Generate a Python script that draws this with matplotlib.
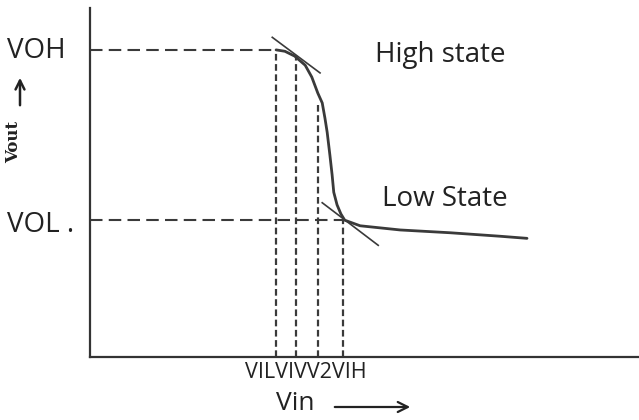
import matplotlib
matplotlib.use("Agg")
import matplotlib.pyplot as plt

# ---- data (voltage units) ----
vin_curve = [3.39, 3.55, 3.73, 3.92, 4.04, 4.15, 4.23, 4.28, 4.32, 4.37, 4.41,
             4.44, 4.50, 4.57, 4.64, 4.92, 5.65, 6.56, 7.47, 7.96]
vout_curve = [4.40, 4.38, 4.31, 4.18, 4.01, 3.78, 3.64, 3.42, 3.22, 2.89, 2.61,
              2.36, 2.18, 2.05, 1.96, 1.88, 1.82, 1.78, 1.73, 1.70]
tangent_hi_x = [3.32, 4.19]
tangent_hi_y = [4.58, 4.07]
tangent_lo_x = [4.23, 5.25]
tangent_lo_y = [2.21, 1.60]
VOH = 4.40
VOL = 1.96
tick_labels = ["VIL", "VIV", "V2", "VIH"]
tick_x = [3.39, 3.75, 4.15, 4.61]
tick_top = [4.40, 4.30, 3.65, 1.96]

W, H = 639, 420
fig = plt.figure(figsize=(W / 100, H / 100), dpi=100)
ax = fig.add_axes([90 / W, 63 / H, 549 / W, 349 / H])
ax.set_xlim(0, 10)
ax.set_ylim(0, 5)
for s in ["top", "right"]:
    ax.spines[s].set_visible(False)
for s in ["left", "bottom"]:
    ax.spines[s].set_linewidth(1.6)
    ax.spines[s].set_color("#333333")
ax.set_xticks([])
ax.set_yticks([])

dark = "#3a3a3a"
# horizontal dashed lines
ax.plot([0, tick_x[0]], [VOH, VOH], color=dark, lw=1.5, dashes=(6, 3))
ax.plot([0, tick_x[3]], [VOL, VOL], color=dark, lw=1.5, dashes=(6, 3))
# vertical dotted lines
for x, top in zip(tick_x, tick_top):
    ax.plot([x, x], [0, top], color=dark, lw=1.6, dashes=(3, 1.6))
# curve and tangents
ax.plot(vin_curve, vout_curve, color=dark, lw=2.0, solid_capstyle="round")
ax.plot(tangent_hi_x, tangent_hi_y, color=dark, lw=1.2)
ax.plot(tangent_lo_x, tangent_lo_y, color=dark, lw=1.2)

txt = "#222222"
font = "Open Sans"


def fx(px):
    return px / W


def fy(py):
    return 1 - py / H


fig.text(fx(7), fy(58), "VOH", family=font, fontsize=20, color=txt, va="baseline", ha="left")
fig.text(fx(7), fy(232), "VOL .", family=font, fontsize=20, color=txt, va="baseline", ha="left")
fig.text(fx(14), fy(142), "Vout", family="DejaVu Serif", fontweight="bold", fontsize=12,
         rotation=90, color=txt, va="center", ha="center")
fig.add_artist(matplotlib.patches.FancyArrowPatch((fx(20), fy(108)), (fx(20), fy(75)),
               transform=fig.transFigure, arrowstyle="->", mutation_scale=16,
               lw=1.8, color=txt))
fig.text(fx(440), fy(62), "High state", family=font, fontsize=20, color=txt,
         va="baseline", ha="center")
fig.text(fx(445), fy(206), "Low State", family=font, fontsize=20, color=txt,
         va="baseline", ha="center")
fig.text(fx(306), fy(378), "".join(tick_labels), family=font, fontsize=15.5, color=txt,
         va="baseline", ha="center")
fig.text(fx(295), fy(404), "Vin", family=font, fontsize=19, color=txt,
         va="center", ha="center")
fig.add_artist(matplotlib.patches.FancyArrowPatch((fx(332), fy(407)), (fx(413), fy(407)),
               transform=fig.transFigure, arrowstyle="->", mutation_scale=18,
               lw=1.6, color=txt))

fig.savefig("out.png", dpi=100)
